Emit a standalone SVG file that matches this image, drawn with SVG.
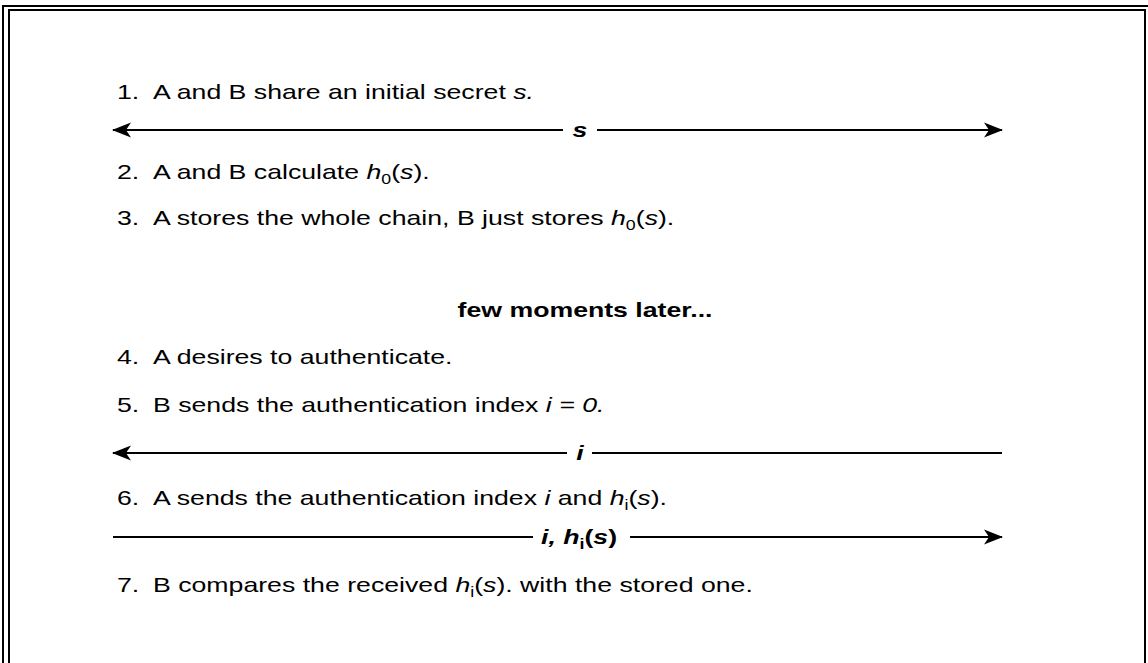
<svg xmlns="http://www.w3.org/2000/svg" width="1148" height="663" viewBox="0 0 1148 663">
  <style>
    .t { font-family: "Liberation Sans", Arial, sans-serif; font-size: 21px; fill: #000; }
    .b { font-weight: bold; }
    .i { font-style: italic; }
    .sub { font-size: 14px; font-style: normal; }
    .ln { stroke: #000; stroke-width: 2; fill: none; }
    .frame { stroke: #000; stroke-width: 2; fill: none; }
  </style>
  <defs>
    <marker id="head" markerUnits="userSpaceOnUse" markerWidth="19" markerHeight="16" refX="18" refY="8" orient="auto-start-reverse">
      <path d="M0,0.5 L19,8 L0,15.5 L5,8 Z" fill="#000"/>
    </marker>
  </defs>

  <rect width="1148" height="663" fill="#fff"/>

  <!-- double frame -->
  <g id="frame">
    <rect class="frame" x="3" y="6" width="1200" height="700"/>
    <rect class="frame" x="9" y="10" width="1136" height="700"/>
  </g>

  <!-- numbered steps (text is drawn slightly widened) -->
  <g id="step1">
    <text class="t" transform="translate(117,99) scale(1.27,1)">1.</text>
    <text class="t" transform="translate(153,99) scale(1.27,1)">A and B share an initial secret <tspan class="i">s.</tspan></text>
  </g>
  <g id="step2">
    <text class="t" transform="translate(117,179) scale(1.27,1)">2.</text>
    <text class="t" transform="translate(153,179) scale(1.27,1)">A and B calculate <tspan class="i">h</tspan><tspan class="sub" dy="5">0</tspan><tspan dy="-5">(</tspan><tspan class="i">s</tspan>).</text>
  </g>
  <g id="step3">
    <text class="t" transform="translate(117,225) scale(1.27,1)">3.</text>
    <text class="t" transform="translate(153,225) scale(1.27,1)">A stores the whole chain, B just stores <tspan class="i">h</tspan><tspan class="sub" dy="5">0</tspan><tspan dy="-5">(</tspan><tspan class="i">s</tspan>).</text>
  </g>
  <g id="later">
    <text class="t b" text-anchor="middle" transform="translate(585,317) scale(1.27,1)">few moments later...</text>
  </g>
  <g id="step4">
    <text class="t" transform="translate(117,364) scale(1.27,1)">4.</text>
    <text class="t" transform="translate(153,364) scale(1.27,1)">A desires to authenticate.</text>
  </g>
  <g id="step5">
    <text class="t" transform="translate(117,412) scale(1.27,1)">5.</text>
    <text class="t" transform="translate(153,412) scale(1.27,1)">B sends the authentication index <tspan class="i">i = 0.</tspan></text>
  </g>
  <g id="step6">
    <text class="t" transform="translate(117,505) scale(1.27,1)">6.</text>
    <text class="t" transform="translate(153,505) scale(1.27,1)">A sends the authentication index <tspan class="i">i</tspan> and <tspan class="i">h</tspan><tspan class="sub" dy="5">i</tspan><tspan dy="-5">(</tspan><tspan class="i">s</tspan>).</text>
  </g>
  <g id="step7">
    <text class="t" transform="translate(117,592) scale(1.27,1)">7.</text>
    <text class="t" transform="translate(153,592) scale(1.27,1)">B compares the received <tspan class="i">h</tspan><tspan class="sub" dy="5">i</tspan><tspan dy="-5">(</tspan><tspan class="i">s</tspan>). with the stored one.</text>
  </g>

  <!-- message arrows with labels -->
  <g id="connectors">
    <line class="ln" x1="113" y1="130" x2="563" y2="130" marker-start="url(#head)"/>
    <line class="ln" x1="597" y1="130" x2="1002" y2="130" marker-end="url(#head)"/>
    <text class="t b i" text-anchor="middle" transform="translate(580,137) scale(1.27,1)">s</text>

    <line class="ln" x1="113" y1="453" x2="567" y2="453" marker-start="url(#head)"/>
    <line class="ln" x1="592" y1="453" x2="1002" y2="453"/>
    <text class="t b i" text-anchor="middle" transform="translate(580,460) scale(1.27,1)">i</text>

    <line class="ln" x1="113" y1="537" x2="533" y2="537"/>
    <line class="ln" x1="630" y1="537" x2="1002" y2="537" marker-end="url(#head)"/>
    <text class="t b" transform="translate(541,544) scale(1.27,1)"><tspan class="i">i, h</tspan><tspan class="sub" dy="5">i</tspan><tspan dy="-5">(</tspan><tspan class="i">s</tspan>)</text>
  </g>
</svg>
